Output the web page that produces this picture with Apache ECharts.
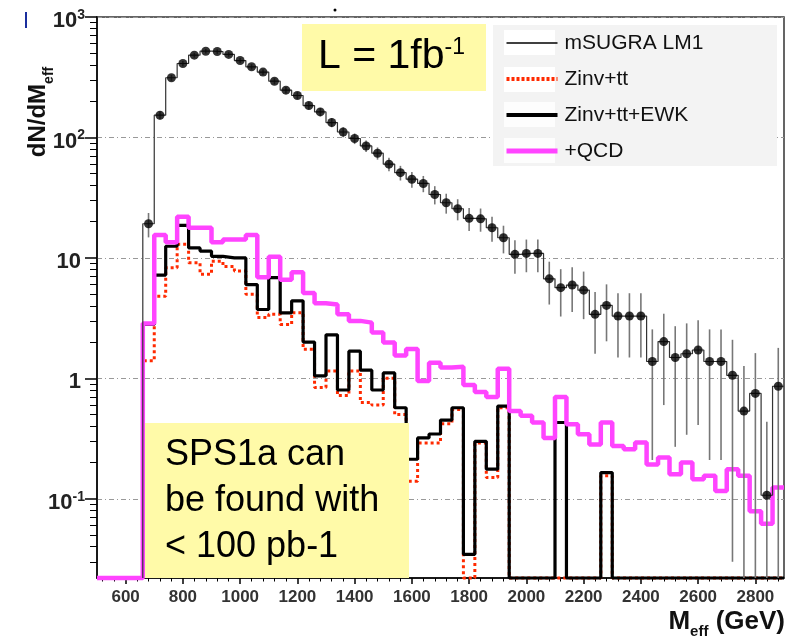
<!DOCTYPE html>
<html><head><meta charset="utf-8">
<script src="https://cdn.jsdelivr.net/npm/echarts@6/dist/echarts.min.js"></script>
<style>html,body{margin:0;padding:0;background:#fff}#c{width:794px;height:643px}</style>
</head><body><div id="c"></div>
<script>
// ---- binning (GeV) ----
const X_MIN = 500, X_MAX = 2900, BIN_W = 40;
const Y_MIN = 0.022, Y_MAX = 1000;
const xTickLabels = [600, 800, 1000, 1200, 1400, 1600, 1800, 2000, 2200, 2400, 2600, 2800];
const yTickLabels = [0.1, 1, 10, 100, 1000];

// ---- mSUGRA LM1 (points with errors), first filled bin index ----
const lm1FirstBin = 4;
const lm1Values = [19.2,153,313,411,482,520,517,489,435,386,349,293,247,223,184,163,133,111,98,85,74,60,51,45,41.5,33.6,28.7,25.6,21.3,21.1,17.8,14.7,10.7,10.9,10.9,6.7,5.66,5.95,5.4,3.4,4.03,3.29,3.29,3.29,1.38,2.02,1.49,1.6,1.72,1.38,1.38,1.06,0.535,0.75,0.107,0.86];
const lm1Errors = [4.4,12.4,17.7,20.3,22,22.8,22.7,22.1,20.9,19.6,18.7,17.1,15.7,14.9,13.6,12.8,11.5,10.5,9.9,9.2,8.6,7.7,7.1,6.7,6.4,5.8,5.4,5.1,4.6,4.6,4.2,3.8,3.3,3.3,3.3,2.6,2.4,2.4,2.3,1.8,2.0,1.8,1.8,1.8,1.17,1.42,1.22,1.26,1.31,1.17,1.17,1.03,0.73,0.87,0.33,0.93];

// ---- backgrounds, 60 bins from 500 GeV ----
const zinvTT = [0,0,0,0, 1.4,4.8,8.3,13,9.1,7.3, 9.4,8.5,7.8,5.0,3.2,3.4,2.8,3.5,1.74,0.84, 1.15,0.72,1.15,0.63,0.6,1.0,0.5,0.14,0.29,0.29, 0.42,0.55,0,0.29,0.15,0.57,0,0,0,0, 0,0,0,0,0.155,0,0,0,0,0, 0,0,0,0,0,0,0,0,0,0];
const zinvTTEWK = [0,0,0,0, 2.8,7.2,12.5,18.6,12.1,11.4, 10.3,10,10,6.0,3.73,6.85,3.5,4.4,2.0,1.05, 2.3,0.8,1.68,1.17,0.8,1.11,0.57,0.213,0.32,0.345, 0.45,0.57,0.0346,0.3,0.176,0.589,0,0,0,0, 0.43,0,0,0,0.165,0,0,0,0,0, 0,0,0,0,0,0,0,0,0,0];
const plusQCD = [0,0,0,0, 2.85,15.5,13.5,22,17.8,17.8, 13.5,14.2,14.2,15.5,6.9,10.2,6.6,7.6,5.1,4.2, 4.1,3.4,3.0,2.9,2.4,1.98,1.55,1.75,0.95,1.35, 1.23,1.25,0.88,0.77,0.7,1.2,0.535,0.49,0.43,0.32, 0.7,0.415,0.343,0.283,0.429,0.275,0.258,0.293,0.193,0.22, 0.16,0.2,0.145,0.155,0.116,0.176,0.155,0.079,0.062,0.124];

// ---- helpers ----
function clampY(v){ return (v && v > Y_MIN) ? v : Y_MIN; }
function stepData(vals, first){
  const d = [];
  for (let i = 0; i < vals.length; i++) d.push([X_MIN + (first + i) * BIN_W, clampY(vals[i])]);
  d.push([X_MIN + (first + vals.length) * BIN_W, clampY(vals[vals.length - 1])]);
  return d;
}
const lm1Line = [[X_MIN + lm1FirstBin * BIN_W, Y_MIN]].concat(stepData(lm1Values, lm1FirstBin));
const lm1Points = lm1Values.map((v, i) => [X_MIN + (lm1FirstBin + i + 0.5) * BIN_W, v]);
const lm1Bars = lm1Values.map((v, i) => [X_MIN + (lm1FirstBin + i + 0.5) * BIN_W, clampY(v - lm1Errors[i]), v + lm1Errors[i]]);

const xMinor = [];
for (let v = 520; v < X_MAX; v += 40) { if ((v - 600) % 200 !== 0) xMinor.push(v); }
const yMinor = [];
[0.01, 0.1, 1, 10, 100].forEach(d => { for (let m = 2; m <= 9; m++) { const v = +(m * d).toPrecision(3); if (v >= Y_MIN && v <= Y_MAX) yMinor.push(v); } });

const FONT = 'Liberation Sans, Arial, Helvetica, sans-serif';
const chart = echarts.init(document.getElementById('c'), null, {renderer: 'canvas'});

const supLabel = {'3': '{b|10}{s|3}', '2': '{b|10}{s|2}', '1': '{p|10}', '0': '{p|1}', '-1': '{b|10}{s|-1}'};
const noSym = {color: 'rgba(0,0,0,0)', borderWidth: 0, opacity: 0};

chart.setOption({
  animation: false,
  backgroundColor: '#fff',
  grid: {left: 97, top: 17, width: 687, height: 561, show: true, borderColor: '#333', borderWidth: 1.5, backgroundColor: 'transparent'},
  xAxis: [{
    type: 'value', min: X_MIN, max: X_MAX, position: 'bottom',
    axisLine: {show: true, onZero: false, lineStyle: {color: '#000', width: 1.5}},
    axisTick: {show: true, customValues: xTickLabels, length: 6, lineStyle: {color: '#000', width: 1.5}},
    axisLabel: {customValues: xTickLabels, margin: 11, fontSize: 17, fontWeight: 'bold', color: '#333', fontFamily: FONT,
      formatter: v => String(Math.round(v))},
    splitLine: {show: false}
  }, {
    type: 'value', min: X_MIN, max: X_MAX, position: 'bottom', gridIndex: 0,
    axisLine: {show: false},
    axisTick: {show: true, customValues: xMinor, length: 3.5, lineStyle: {color: '#000', width: 1}},
    axisLabel: {show: false}, splitLine: {show: false}
  }],
  yAxis: [{
    type: 'log', logBase: 10, min: Y_MIN, max: Y_MAX, position: 'left',
    axisLine: {show: true, onZero: false, lineStyle: {color: '#000', width: 1.5}},
    axisTick: {show: true, customValues: yTickLabels, length: 12, lineStyle: {color: '#000', width: 1.5}},
    axisLabel: {
      customValues: yTickLabels, margin: 12, color: '#222', fontFamily: FONT,
      formatter: v => supLabel[String(Math.round(Math.log10(v)))] || '',
      rich: {
        b: {fontSize: 22, fontWeight: 'bold', fontFamily: FONT, color: '#222', lineHeight: 26, verticalAlign: 'top', padding: [6,0,0,0]},
        s: {fontSize: 14, fontWeight: 'bold', fontFamily: FONT, color: '#222', lineHeight: 14, verticalAlign: 'top', padding: [4,0,0,0]},
        p: {fontSize: 22, fontWeight: 'bold', fontFamily: FONT, color: '#222', lineHeight: 26, verticalAlign: 'top', padding: [6,4,0,0]}
      }
    },
    splitLine: {show: true, lineStyle: {color: '#999', width: 1, type: [5, 3, 1, 3]}}
  }, {
    type: 'log', logBase: 10, min: Y_MIN, max: Y_MAX, position: 'left', gridIndex: 0,
    axisLine: {show: false},
    axisTick: {show: true, customValues: yMinor, length: 7, lineStyle: {color: '#000', width: 1}},
    axisLabel: {show: false}, splitLine: {show: false}
  }],
  legend: {
    orient: 'vertical', left: 504, top: 30, padding: 0, itemWidth: 51, itemHeight: 14, itemGap: 10,
    selectedMode: false, z: 60,
    textStyle: {fontSize: 21, fontFamily: FONT, color: '#111', lineHeight: 26, padding: [0, 0, 0, 2]},
    data: [
      {name: 'mSUGRA LM1', lineStyle: {width: 1.5, color: '#000'}, itemStyle: noSym},
      {name: 'Zinv+tt', lineStyle: {width: 4, color: '#ff2a00', type: [3, 2]}, itemStyle: noSym},
      {name: 'Zinv+tt+EWK', lineStyle: {width: 4, color: '#000'}, itemStyle: noSym},
      {name: '+QCD', lineStyle: {width: 5, color: '#ff44ff'}, itemStyle: noSym}
    ]
  },
  graphic: [
    {type: 'rect', z: 50, shape: {x: 493, y: 25, width: 284, height: 141}, style: {fill: '#f3f3f3'}},
    {type: 'rect', z: 55, shape: {x: 504, y: 30, width: 51, height: 25}, style: {fill: '#fff'}},
    {type: 'rect', z: 55, shape: {x: 504, y: 67, width: 51, height: 25}, style: {fill: '#fff'}},
    {type: 'rect', z: 55, shape: {x: 504, y: 102, width: 51, height: 25}, style: {fill: '#fdfdfd'}},
    {type: 'rect', z: 55, shape: {x: 504, y: 138, width: 51, height: 25}, style: {fill: '#fdfdfd'}},
    {type: 'rect', z: 100, shape: {x: 302, y: 24, width: 184, height: 67}, style: {fill: '#fffaa8'}},
    {type: 'text', z: 101, x: 318, y: 57, style: {
      text: '{a|L = 1fb}{s|-1}', verticalAlign: 'middle', align: 'left',
      rich: {a: {fontSize: 41, fontFamily: FONT, fill: '#000', lineHeight: 42, verticalAlign: 'top'},
             s: {fontSize: 23, fontFamily: FONT, fill: '#000', lineHeight: 23, verticalAlign: 'top'}}}},
    {type: 'rect', z: 100, shape: {x: 145, y: 423, width: 264, height: 155}, style: {fill: '#fffaa8'}},
    {type: 'text', z: 101, x: 165, y: 432, style: {
      text: 'SPS1a can\nbe found with\n< 100 pb-1', font: '36px ' + FONT, fill: '#000', lineHeight: 46, align: 'left', verticalAlign: 'top'}},
    {type: 'text', z: 101, x: 41, y: 112, rotation: Math.PI / 2, style: {
      text: '{a|dN/dM}{b|eff}', align: 'center', verticalAlign: 'middle',
      rich: {a: {fontSize: 24, fontWeight: 'bold', fontFamily: FONT, fill: '#111', lineHeight: 30, verticalAlign: 'top'},
             b: {fontSize: 14, fontWeight: 'bold', fontFamily: FONT, fill: '#111', lineHeight: 14, verticalAlign: 'bottom'}}}},
    {type: 'text', z: 101, x: 785, y: 624, style: {
      text: '{a|M}{b|eff}{a| (GeV)}', align: 'right', verticalAlign: 'middle',
      rich: {a: {fontSize: 26, fontWeight: 'bold', fontFamily: FONT, fill: '#111', lineHeight: 30, verticalAlign: 'top'},
             b: {fontSize: 15, fontWeight: 'bold', fontFamily: FONT, fill: '#111', lineHeight: 14, verticalAlign: 'bottom'}}}},
    {type: 'rect', z: 101, shape: {x: 25, y: 12, width: 2, height: 16}, style: {fill: '#1b2f9e'}},
    {type: 'circle', z: 101, shape: {cx: 335, cy: 10, r: 1.5}, style: {fill: '#000'}}
  ],
  series: [
    {name: 'Zinv+tt', type: 'line', step: 'end', data: stepData(zinvTT, 0), symbol: 'none', showSymbol: false, clip: false, z: 2,
     lineStyle: {color: '#ff2a00', width: 3, type: [3, 3]}, itemStyle: {color: '#ff2a00'}},
    {name: 'Zinv+tt+EWK', type: 'line', step: 'end', data: stepData(zinvTTEWK, 0), symbol: 'none', showSymbol: false, clip: false, z: 3,
     lineStyle: {color: '#000', width: 3.2}, itemStyle: {color: '#000'}},
    {name: '+QCD', type: 'line', step: 'end', data: stepData(plusQCD, 0), symbol: 'none', showSymbol: false, clip: false, z: 4,
     lineStyle: {color: '#ff44ff', width: 4.5}, itemStyle: {color: '#ff44ff'}},
    {name: 'LM1 errors', type: 'custom', z: 5, encode: {x: 0, y: [1, 2]}, data: lm1Bars,
     renderItem: (params, api) => {
       const p1 = api.coord([api.value(0), api.value(1)]);
       const p2 = api.coord([api.value(0), api.value(2)]);
       return {type: 'line', shape: {x1: p1[0], y1: p1[1], x2: p2[0], y2: p2[1]}, style: {stroke: '#777', lineWidth: 1.6}};
     }},
    {name: 'mSUGRA LM1', type: 'line', step: 'end', data: lm1Line, symbol: 'none', showSymbol: false, clip: false, z: 5,
     lineStyle: {color: '#333', width: 1.2}, itemStyle: {color: '#000'}},
    {name: 'LM1 points', type: 'scatter', data: lm1Points, symbol: 'circle', symbolSize: 9, z: 6,
     itemStyle: {color: '#000'}}
  ]
});
</script>
</body></html>
